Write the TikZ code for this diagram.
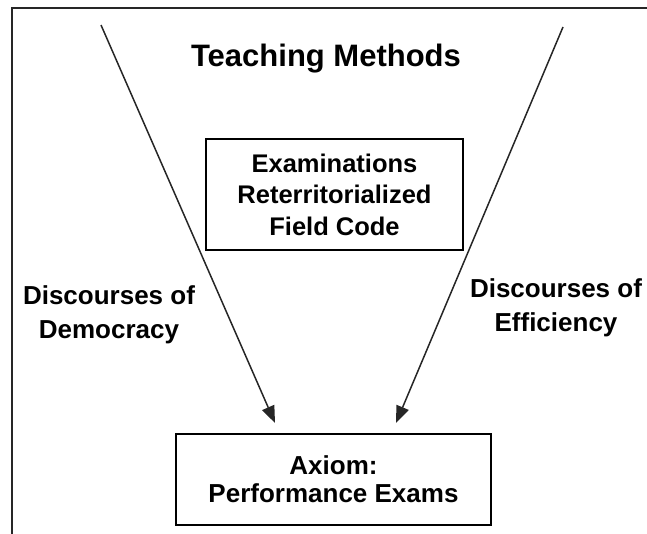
\documentclass[tikz,border=0pt]{standalone}
\usepackage{fontspec}
\setmainfont{Liberation Sans}
\usetikzlibrary{arrows.meta}
\begin{document}
\begin{tikzpicture}[x=1pt,y=-1pt,
  lbl/.style={font=\bfseries\fontsize{26}{34}\selectfont, align=center, inner sep=0pt},
  boxed/.style={draw, line width=1.5pt, inner sep=0pt, align=center},
  flow/.style={line width=1.5pt, draw=black!85, -{Triangle[length=17pt,width=13pt]}}]
  \useasboundingbox (0,0) rectangle (647,533);
  % open frame: left and top sides
  \draw[line width=1.8pt, black!85] (12,540) -- (12,8) -- (660,8);
  % title
  \node[font=\bfseries\fontsize{31}{36}\selectfont, anchor=base] (title) at (326,66) {Teaching Methods};
  % central boxes
  \node[boxed, minimum width=257pt, minimum height=111pt, font=\bfseries\fontsize{25.5}{31.5}\selectfont] (field) at (334.5,194.5)
    {Examinations\\Reterritorialized\\Field Code};
  \node[boxed, minimum width=315pt, minimum height=91pt, font=\bfseries\fontsize{26}{28}\selectfont] (axiom) at (333.5,479.5)
    {Axiom:\\Performance Exams};
  % side labels
  \node[lbl] (dem) at (109,315) {Discourses of\\Democracy};
  \node[lbl] (eff) at (556,308) {Discourses of\\Efficiency};
  % converging arrows
  \coordinate (ls) at (101,25);
  \coordinate (lt) at (275,423);
  \coordinate (rs) at (563,27);
  \coordinate (rt) at (396,423);
  \draw[flow] (ls) -- (lt);
  \draw[flow] (rs) -- (rt);
\end{tikzpicture}
\end{document}
